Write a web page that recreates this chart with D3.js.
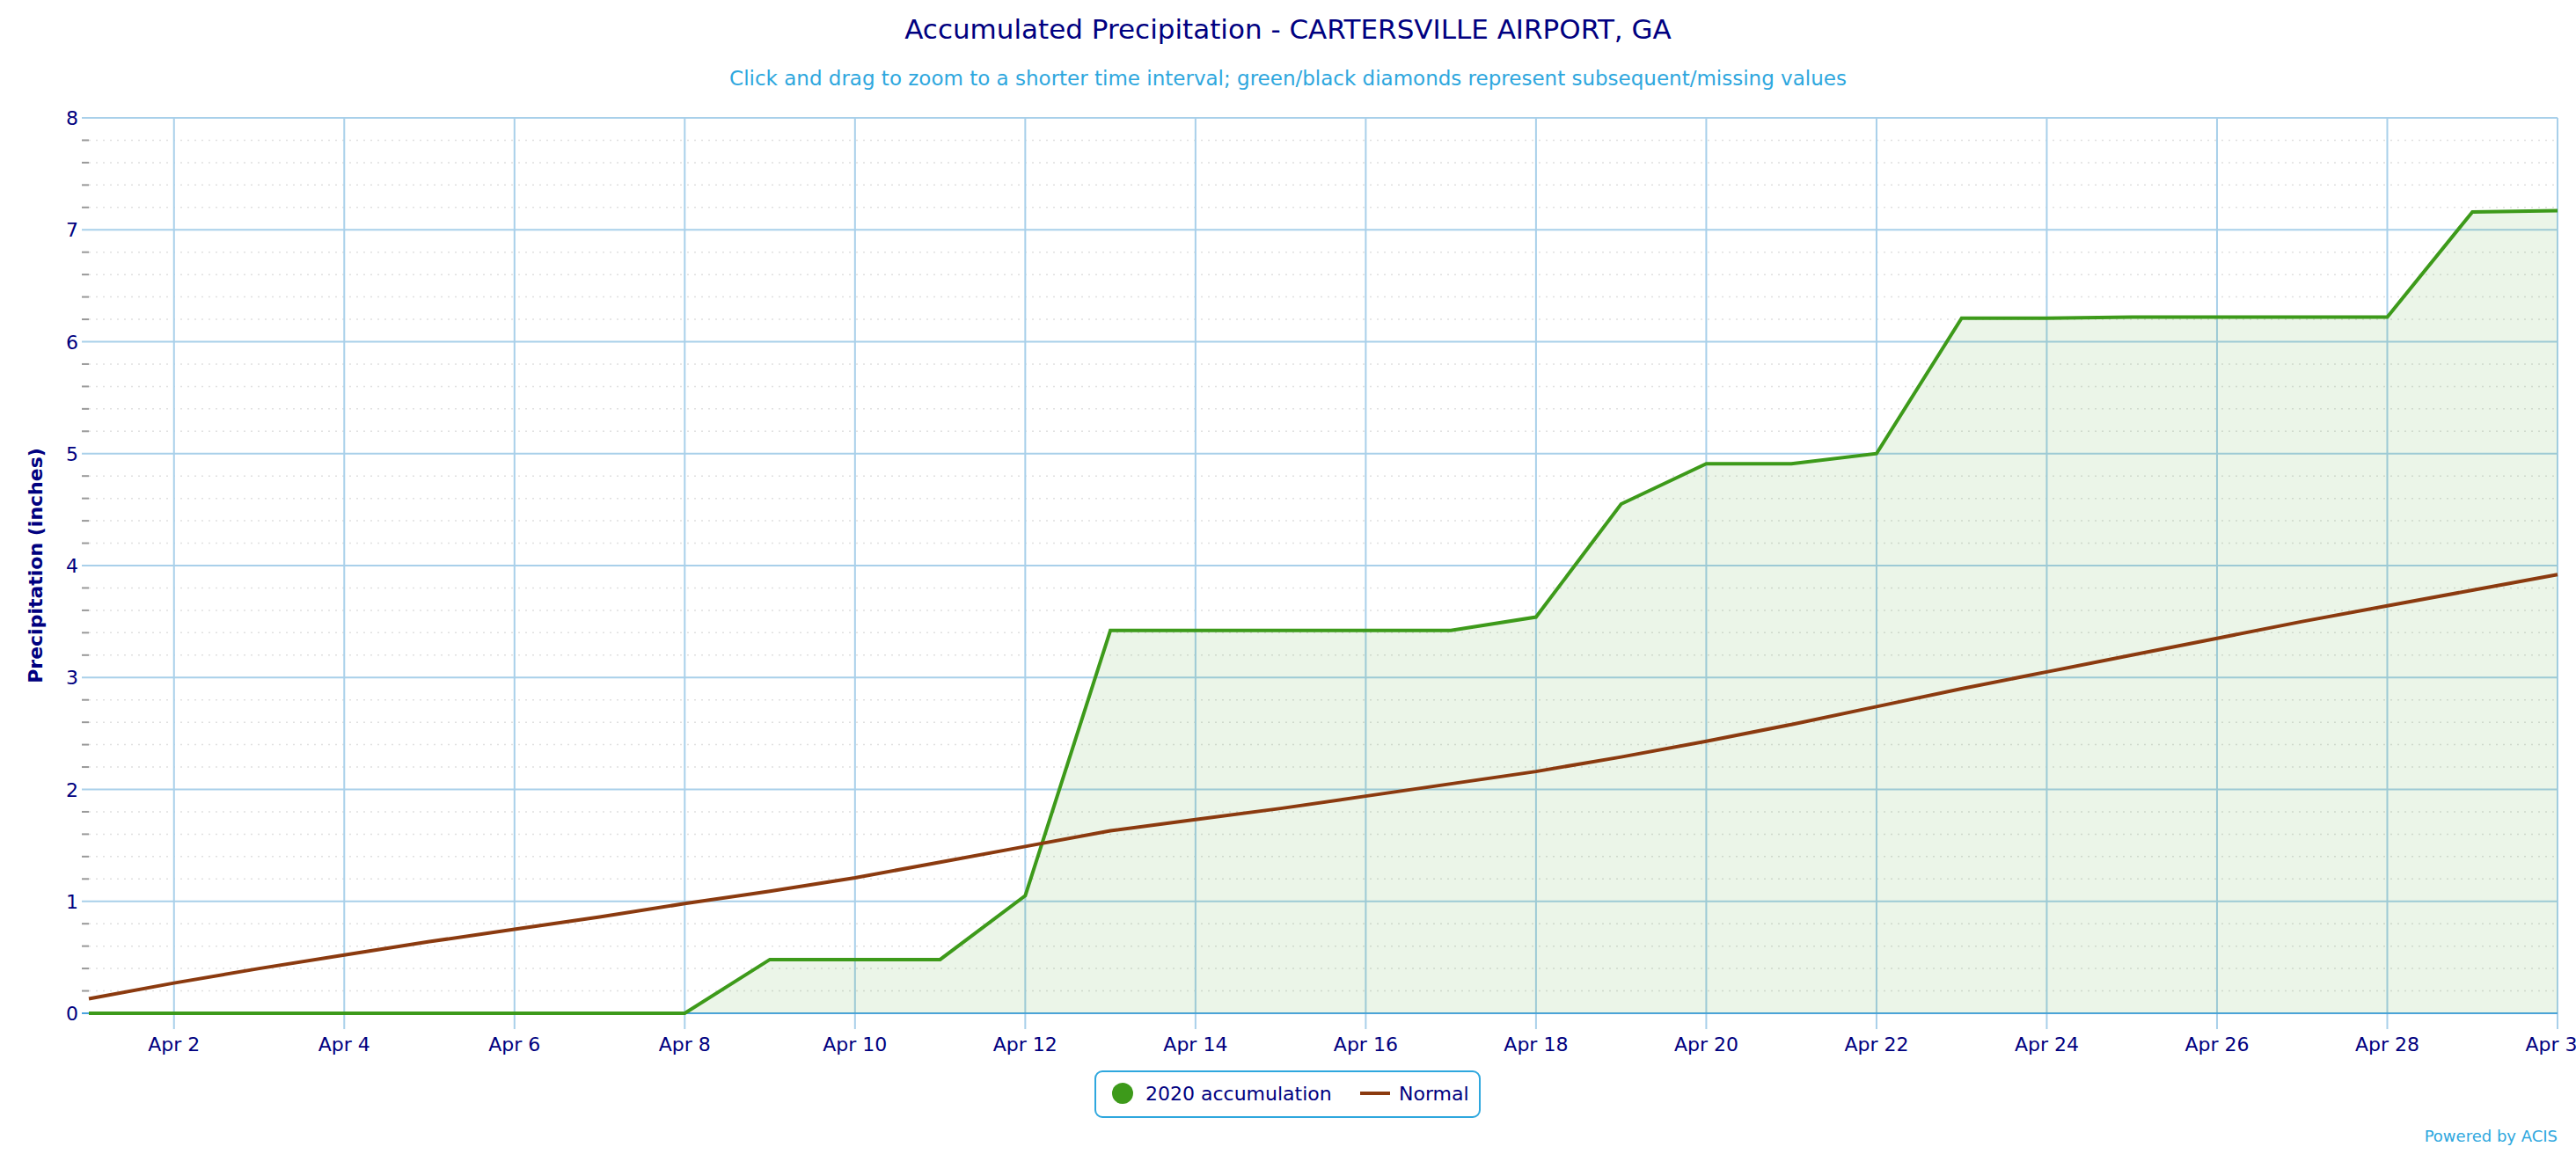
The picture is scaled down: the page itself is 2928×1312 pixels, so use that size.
<!DOCTYPE html>
<html><head><meta charset="utf-8">
<script src="https://cdn.jsdelivr.net/npm/d3@7"></script>
<style>body{margin:0;background:#fff}svg{display:block;font-family:"DejaVu Sans",Verdana,sans-serif}</style>
</head><body><svg id="c" width="2928" height="1312"></svg>
<script>
const days = d3.range(1,31);
const accum2020 = [0,0,0,0,0,0,0,0,0.48,0.48,0.48,1.05,3.42,3.42,3.42,3.42,3.42,3.54,4.55,4.91,4.91,5.0,6.21,6.21,6.22,6.22,6.22,6.22,7.16,7.17];
const normal = [0.13,0.27,0.40,0.52,0.64,0.75,0.86,0.98,1.09,1.21,1.35,1.49,1.63,1.73,1.83,1.94,2.05,2.16,2.29,2.43,2.58,2.74,2.90,3.05,3.20,3.35,3.50,3.64,3.78,3.92];
const yTicks = [0,1,2,3,4,5,6,7,8];
const xTickDays = d3.range(2,31,2);

const svg = d3.select("#c");
const L=101,R=2907,T=134,B=1152;
const x = d3.scaleLinear().domain([1,30]).range([L,R]);
const y = d3.scaleLinear().domain([0,8]).range([B,T]);
const navy="#000080", blue="#a9d0ea";

// minor dotted grid
const minor = d3.range(0,8.01,0.2).filter(v=>Math.abs(v-Math.round(v))>1e-6);
svg.append("g").selectAll("line").data(minor).join("line")
 .attr("x1",L).attr("x2",R).attr("y1",d=>y(d)).attr("y2",d=>y(d))
 .attr("stroke","#e0e0e0").attr("stroke-width",1.5).attr("stroke-dasharray","2,6");
svg.append("g").selectAll("line").data(minor).join("line")
 .attr("x1",L-8).attr("x2",L).attr("y1",d=>y(d)).attr("y2",d=>y(d))
 .attr("stroke","#999").attr("stroke-width",2);
// vertical grid
svg.append("g").selectAll("line").data(xTickDays).join("line")
 .attr("x1",d=>x(d)).attr("x2",d=>x(d)).attr("y1",T).attr("y2",B+18)
 .attr("stroke",blue).attr("stroke-width",2);
// horizontal grid
svg.append("g").selectAll("line").data(yTicks).join("line")
 .attr("x1",L-8).attr("x2",R).attr("y1",d=>y(d)).attr("y2",d=>y(d))
 .attr("stroke",d=>d===0?"#4aa3df":blue).attr("stroke-width",2);

// area + lines
svg.append("path").datum(accum2020)
 .attr("d",d3.area().x((d,i)=>x(days[i])).y0(y(0)).y1(d=>y(d)))
 .attr("fill","#3d9a1a").attr("fill-opacity",0.1);
svg.append("path").datum(accum2020)
 .attr("d",d3.line().x((d,i)=>x(days[i])).y(d=>y(d)))
 .attr("fill","none").attr("stroke","#3d9a1a").attr("stroke-width",4);
svg.append("path").datum(normal)
 .attr("d",d3.line().x((d,i)=>x(days[i])).y(d=>y(d)))
 .attr("fill","none").attr("stroke","#8b3a0f").attr("stroke-width",4);

// labels
svg.append("g").selectAll("text").data(yTicks).join("text")
 .attr("x",L-12).attr("y",d=>y(d)+8).attr("text-anchor","end")
 .attr("fill",navy).attr("font-size",22).text(d=>d);
svg.append("g").selectAll("text").data(xTickDays).join("text")
 .attr("x",d=>x(d)).attr("y",B+43).attr("text-anchor","middle")
 .attr("fill",navy).attr("font-size",22).text(d=>"Apr "+d);

svg.append("text").attr("x",1464).attr("y",44).attr("text-anchor","middle")
 .attr("fill",navy).attr("font-size",31).text("Accumulated Precipitation - CARTERSVILLE AIRPORT, GA");
svg.append("text").attr("x",1464).attr("y",97).attr("text-anchor","middle")
 .attr("fill","#2ea7de").attr("font-size",23).text("Click and drag to zoom to a shorter time interval; green/black diamonds represent subsequent/missing values");
svg.append("text").attr("transform",`translate(48,${(T+B)/2}) rotate(-90)`).attr("text-anchor","middle")
 .attr("fill",navy).attr("font-size",22).attr("font-weight","bold").text("Precipitation (inches)");

// legend
const lg=svg.append("g");
lg.append("rect").attr("x",1245).attr("y",1218).attr("width",437).attr("height",52).attr("rx",8)
 .attr("fill","#fff").attr("stroke","#2ea7de").attr("stroke-width",2);
lg.append("circle").attr("cx",1276).attr("cy",1243).attr("r",12).attr("fill","#3d9a1a");
lg.append("text").attr("x",1302).attr("y",1251).attr("fill",navy).attr("font-size",22).text("2020 accumulation");
lg.append("line").attr("x1",1546).attr("x2",1580).attr("y1",1243).attr("y2",1243).attr("stroke","#8b3a0f").attr("stroke-width",4);
lg.append("text").attr("x",1590).attr("y",1251).attr("fill",navy).attr("font-size",22).text("Normal");

svg.append("text").attr("x",2907).attr("y",1298).attr("text-anchor","end")
 .attr("fill","#2ea7de").attr("font-size",18).text("Powered by ACIS");
</script></body></html>
